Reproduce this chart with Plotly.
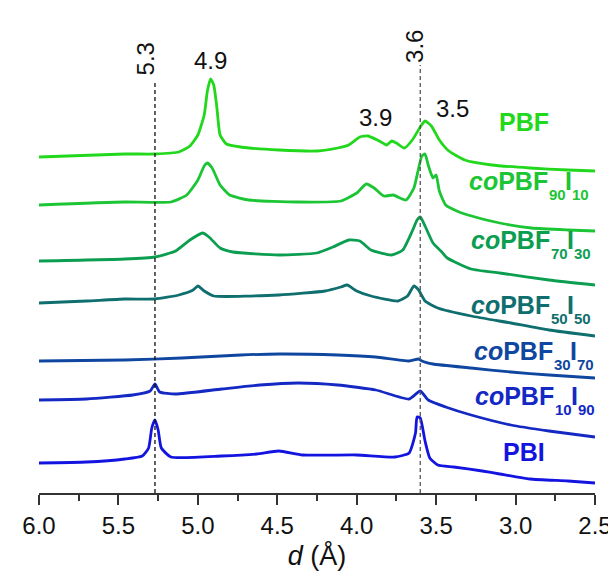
import plotly.graph_objects as go

# ---------------- data (d in Å, stacked intensity in arbitrary units) ----------------
pbf_d = [6.00, 5.46, 5.27, 5.12, 5.05, 5.00, 4.96, 4.94, 4.92, 4.90, 4.88, 4.86, 4.82, 4.73, 4.49, 4.25,
         4.12, 4.05, 3.98, 3.93, 3.87, 3.81, 3.78, 3.75, 3.70, 3.65, 3.60, 3.57, 3.53, 3.48, 3.42, 3.32,
         3.15, 2.91, 2.67, 2.50]
pbf_i = [338, 341, 341, 343, 349, 360, 380, 404, 416, 410, 387, 360, 351, 348, 345, 344,
         347, 350, 358, 359, 355, 350, 354, 352, 347, 355, 368, 374, 369, 355, 344, 335,
         330, 327, 325, 324]

co9010_d = [6.00, 5.46, 5.17, 5.07, 5.00, 4.96, 4.94, 4.91, 4.86, 4.80, 4.68, 4.37, 4.10, 4.00, 3.94,
            3.89, 3.83, 3.77, 3.69, 3.64, 3.61, 3.59, 3.57, 3.55, 3.52, 3.50, 3.48, 3.44, 3.37, 3.30,
            3.10, 2.90, 2.67, 2.50]
co9010_i = [290, 293, 293, 300, 315, 329, 332, 327, 310, 300, 295, 293, 294, 302, 311,
            307, 299, 300, 295, 307, 327, 339, 341, 330, 317, 320, 304, 290, 284, 280,
            272, 267, 265, 264]

co7030_d = [6.00, 5.46, 5.27, 5.14, 5.05, 4.97, 4.93, 4.86, 4.78, 4.49, 4.25, 4.15, 4.05, 3.98, 3.91,
            3.78, 3.71, 3.65, 3.62, 3.60, 3.57, 3.52, 3.47, 3.43, 3.28, 3.10, 2.79, 2.50]
co7030_i = [234, 236, 238, 244, 255, 262, 258, 247, 243, 240, 242, 248, 255, 254, 245,
            240, 245, 264, 275, 278, 269, 252, 244, 237, 226, 222, 215, 210]

co5050_d = [6.00, 5.70, 5.46, 5.27, 5.12, 5.03, 5.00, 4.96, 4.90, 4.49, 4.20, 4.10, 4.06, 4.00, 3.91,
            3.74, 3.68, 3.64, 3.61, 3.57, 3.49, 3.28, 3.03, 2.79, 2.50]
co5050_i = [192, 194, 196, 196, 200, 205, 209, 204, 199, 200, 204, 208, 210, 204, 199,
            194, 199, 209, 205, 194, 187, 179, 172, 165, 159]

co3070_d = [6.00, 5.46, 5.10, 4.73, 4.49, 4.12, 3.88, 3.67, 3.61, 3.59, 3.52, 3.28, 3.03, 2.79, 2.50]
co3070_i = [134, 135, 137, 140, 141, 140, 138, 134, 136, 134, 131, 127, 123, 120, 117]

co1090_d = [6.00, 5.70, 5.41, 5.30, 5.27, 5.24, 5.14, 4.85, 4.61, 4.37, 4.12, 3.88, 3.67, 3.60, 3.55,
            3.44, 3.28, 3.03, 2.79, 2.50]
co1090_i = [95, 96, 100, 104, 111, 103, 101, 106, 110, 112, 110, 105, 96, 104, 95,
            88, 80, 70, 64, 58]

pbi_d = [6.00, 5.70, 5.46, 5.35, 5.31, 5.29, 5.27, 5.25, 5.23, 5.17, 4.85, 4.63, 4.49, 4.34, 4.00,
         3.76, 3.67, 3.63, 3.62, 3.60, 3.57, 3.54, 3.49, 3.39, 3.21, 3.10, 2.91, 2.67, 2.50]
pbi_i = [32, 33, 36, 39, 47, 67, 75, 65, 47, 38, 39, 41, 44, 40, 40,
         38, 42, 62, 78, 77, 54, 37, 30, 28, 24, 21, 16, 14, 12]

series_names = ["PBF", "coPBF90I10", "coPBF70I30", "coPBF50I50", "coPBF30I70", "coPBF10I90", "PBI"]
series_colors = ["#22d81c", "#1cc534", "#0c9e50", "#0f6e6e", "#0f46a0", "#1428c4", "#1414e0"]
series_x = [pbf_d, co9010_d, co7030_d, co5050_d, co3070_d, co1090_d, pbi_d]
series_y = [pbf_i, co9010_i, co7030_i, co5050_i, co3070_i, co1090_i, pbi_i]

# copolymer label parts: (F subscript, I subscript)
co_subs = [("90", "10"), ("70", "30"), ("50", "50"), ("30", "70"), ("10", "90")]

peak_labels = ["5.3", "4.9", "3.9", "3.5", "3.6"]
dashed_d = [5.27, 3.60]

tick_vals = [6.0, 5.5, 5.0, 4.5, 4.0, 3.5, 3.0, 2.5]
tick_text = ["6.0", "5.5", "5.0", "4.5", "4.0", "3.5", "3.0", "2.5"]

FONT = "Liberation Sans, Arial, sans-serif"

fig = go.Figure()
for name, xs, ys, col in zip(series_names, series_x, series_y, series_colors):
    fig.add_trace(go.Scatter(x=xs, y=ys, mode="lines", name=name,
                             line=dict(color=col, width=2.8, shape="spline", smoothing=0.5),
                             showlegend=False, hoverinfo="skip"))

# dashed reference lines
fig.add_shape(type="line", xref="x", yref="y", x0=dashed_d[0], x1=dashed_d[0], y0=2, y1=414,
              line=dict(color="#111111", width=1.3, dash="4px,3px"))
fig.add_shape(type="line", xref="x", yref="y", x0=dashed_d[1], x1=dashed_d[1], y0=2, y1=430,
              line=dict(color="#555555", width=1.3, dash="4px,3px"))

# homopolymer labels (centred)
fig.add_annotation(x=2.95, y=373, xref="x", yref="y", text="<b>PBF</b>", showarrow=False,
                   xanchor="center", yanchor="middle",
                   font=dict(family=FONT, size=25, color=series_colors[0]))
fig.add_annotation(x=2.95, y=43, xref="x", yref="y", text="<b>PBI</b>", showarrow=False,
                   xanchor="center", yanchor="middle",
                   font=dict(family=FONT, size=25, color=series_colors[6]))

# copolymer labels built from main text + subscripts
co_layout = [(590, 314), (592, 255), (592, 190), (595, 144), (596, 99)]  # right edge px, centre
W_MAIN, W_SUB, W_I = 79.2, 16.7, 6.95
for (s1, s2), col, (right_px, yc) in zip(co_subs, series_colors[1:6], co_layout):
    left = right_px - (W_MAIN + 2 * W_SUB + W_I) - 597
    parts = [
        ("<b><i>co</i>PBF</b>", left, yc, 25),
        ("<b>%s</b>" % s1, left + W_MAIN, yc - 13, 15),
        ("<b>I</b>", left + W_MAIN + W_SUB, yc, 25),
        ("<b>%s</b>" % s2, left + W_MAIN + W_SUB + W_I, yc - 13, 15),
    ]
    for txt, xs_, yy, sz in parts:
        fig.add_annotation(x=2.5, y=yy, xref="x", yref="y", xshift=xs_, text=txt, showarrow=False,
                           xanchor="left", yanchor="middle", borderpad=0,
                           font=dict(family=FONT, size=sz, color=col))

# peak labels
peak_pos = [(5.33, 436, -90), (4.92, 435, 0), (3.88, 378, 0), (3.40, 387, 0), (3.64, 449, -90)]
for txt, (px, py, ang) in zip(peak_labels, peak_pos):
    fig.add_annotation(x=px, y=py, xref="x", yref="y", text=txt, showarrow=False,
                       textangle=ang, xanchor="center", yanchor="middle",
                       font=dict(family=FONT, size=24, color="#111111"))

fig.update_layout(
    width=616, height=571,
    margin=dict(l=31, r=19, t=20, b=86),
    paper_bgcolor="white", plot_bgcolor="white",
    font=dict(family=FONT, color="#111111"),
    xaxis=dict(range=[6.0, 2.5], tickvals=tick_vals, ticktext=tick_text,
               showgrid=False, zeroline=False, showline=True, linecolor="#333333", linewidth=2,
               ticks="outside", ticklen=10, tickwidth=2, tickcolor="#333333",
               minor=dict(dtick=0.25, tick0=2.5, ticks="outside", ticklen=6, tickwidth=2, tickcolor="#333333"),
               tickfont=dict(family=FONT, size=24, color="#111111"),
               title=dict(text="<i>d</i> (Å)", font=dict(family=FONT, size=27, color="#111111"), standoff=8)),
    yaxis=dict(range=[2, 467], visible=False, showgrid=False, zeroline=False),
)

fig.write_html("out.html")
